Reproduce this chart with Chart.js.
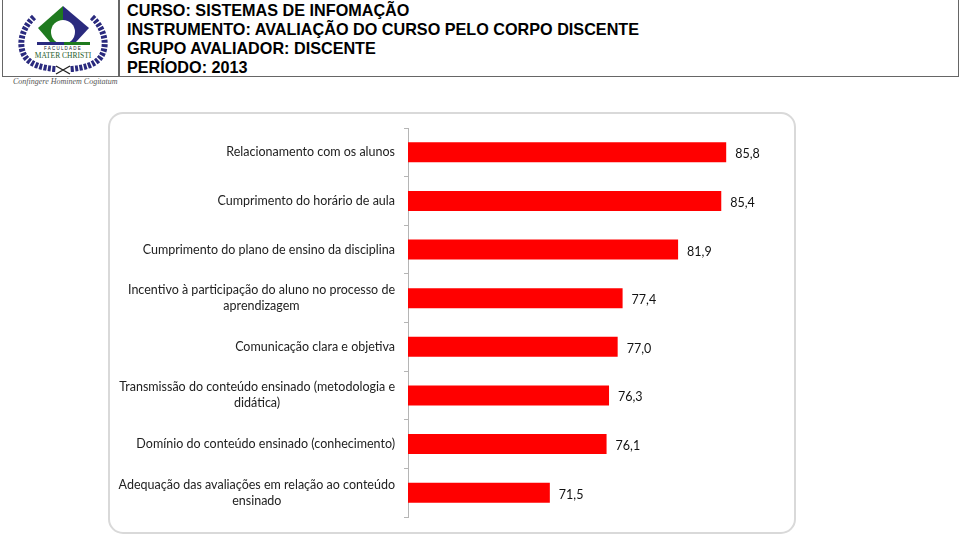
<!DOCTYPE html>
<html>
<head>
<meta charset="utf-8">
<script src="https://cdn.jsdelivr.net/npm/chart.js@4"></script>
<style>
html, body { margin: 0; padding: 0; background: #fff; width: 960px; height: 534px; overflow: hidden; }
#logoBox { position: absolute; left: 2px; top: 0; width: 116px; height: 76px; border: 1px solid #666; border-top: 0; }
#header { position: absolute; left: 118px; top: 0; width: 839px; height: 76px; border: 1px solid #666; border-top: 0;
  font: bold 16.2px/19px "Liberation Sans", Arial, sans-serif; color: #000; padding-top: 0; }
#header div { padding-left: 8px; position: relative; top: 1px; }
#lema { position: absolute; left: 13px; top: 77px; font: italic 8px "Liberation Serif", serif; color: #555; white-space: nowrap; }
#moldura { position: absolute; left: 108px; top: 112px; width: 684px; height: 418px; border: 2px solid #d9d9d9; border-radius: 15px; background: #fff; }
#grafico { position: absolute; left: 108px; top: 112px; }
</style>
</head>
<body>
<div id="logoBox">
<svg width="116" height="76" viewBox="3 0 116 76">
  <polygon points="63,6 63,42 50,42 38,28" fill="#1f7a1f"/>
  <polygon points="63,6 89,28 76,42 63,42" fill="#2a2a7e"/>
  <circle cx="63" cy="32" r="12" fill="#fff"/>
  <rect x="37" y="42" width="27" height="3" fill="#2a2a7e"/>
  <rect x="64" y="42" width="26" height="3" fill="#1f7a1f"/>
  <text x="63" y="50" font-family="Liberation Sans" font-size="4.5" letter-spacing="1.2" text-anchor="middle" fill="#222">FACULDADE</text>
  <text x="63" y="58" font-family="Liberation Serif" font-size="7.5" text-anchor="middle" fill="#1d5c2a">MATER CHRISTI</text>
  <path d="M34 17 C20 30 18 48 26 58 C32 65 42 68 56 69" fill="none" stroke="#2a2a7e" stroke-width="6" stroke-dasharray="3 1.4"/>
  <path d="M92 17 C106 30 108 48 100 58 C94 65 84 68 70 69" fill="none" stroke="#2a2a7e" stroke-width="6" stroke-dasharray="3 1.4"/>
  <path d="M56 66 L70 74 M70 66 L56 74" stroke="#222" stroke-width="1.4"/>
</svg>
</div>
<div id="lema">Confingere Hominem Cogitatum</div>
<div id="header"></div>
<div id="moldura"></div>
<canvas id="grafico" width="686" height="420"></canvas>
<script>
const cabecalho = [
  "CURSO: SISTEMAS DE INFOMAÇÃO",
  "INSTRUMENTO: AVALIAÇÃO DO CURSO PELO CORPO DISCENTE",
  "GRUPO AVALIADOR: DISCENTE",
  "PERÍODO: 2013"
];
const categorias = [
  "Relacionamento com os alunos",
  "Cumprimento do horário de aula",
  "Cumprimento do plano de ensino da disciplina",
  ["Incentivo à participação do aluno no processo de", "aprendizagem"],
  "Comunicação clara e objetiva",
  ["Transmissão do conteúdo ensinado (metodologia e", "didática)"],
  "Domínio do conteúdo ensinado (conhecimento)",
  ["Adequação das avaliações em relação ao conteúdo", "ensinado"]
];
const valores = [85.8, 85.4, 81.9, 77.4, 77.0, 76.3, 76.1, 71.5];

document.getElementById("header").innerHTML = cabecalho.map(t => "<div>" + t + "</div>").join("");

const fonte = { family: "Lato, 'Open Sans', sans-serif", size: 12.5, lineHeight: 1.28 };

// rotulos de duas linhas ficam centrados, os outros alinhados a direita
const centrarRotulos = {
  id: "centrarRotulos",
  beforeDraw(chart) {
    const ctx = chart.ctx;
    const y = chart.scales.y;
    y.getLabelItems().forEach(item => {
      if (Array.isArray(item.label) && item.options.textAlign !== "center") {
        ctx.save();
        ctx.font = item.font.string;
        const w = Math.max(...item.label.map(l => ctx.measureText(l).width));
        ctx.restore();
        item.options.textAlign = "center";
        item.options.translation[0] -= w / 2;
      }
    });
  }
};

const rotulosValor = {
  id: "rotulosValor",
  afterDatasetsDraw(chart) {
    const ctx = chart.ctx;
    ctx.save();
    ctx.font = fonte.size + "px " + fonte.family;
    ctx.fillStyle = "#111";
    ctx.textBaseline = "middle";
    chart.getDatasetMeta(0).data.forEach((barra, i) => {
      ctx.fillText(valores[i].toFixed(1).replace(".", ","), barra.x + 9, barra.y + 2);
    });
    ctx.restore();
  }
};

new Chart(document.getElementById("grafico").getContext("2d"), {
  type: "bar",
  data: {
    labels: categorias,
    datasets: [{
      data: valores,
      backgroundColor: "#ff0000",
      barPercentage: 0.41,
      categoryPercentage: 1
    }]
  },
  options: {
    indexAxis: "y",
    responsive: false,
    animation: false,
    layout: { padding: { top: 16, bottom: 15, right: 16, left: 0 } },
    plugins: { legend: { display: false }, tooltip: { enabled: false } },
    scales: {
      x: { display: false, min: 60, max: 90 },
      y: {
        afterFit(s) { s.width = 300; s.paddingTop = 0; s.paddingBottom = 0; },
        border: { color: "#b5b5b5", width: 1 },
        grid: { drawOnChartArea: false, tickLength: 4, color: "#b5b5b5" },
        ticks: { color: "#222", font: fonte, padding: 9, autoSkip: false, maxRotation: 0 }
      }
    }
  },
  plugins: [centrarRotulos, rotulosValor]
});
</script>
</body>
</html>
